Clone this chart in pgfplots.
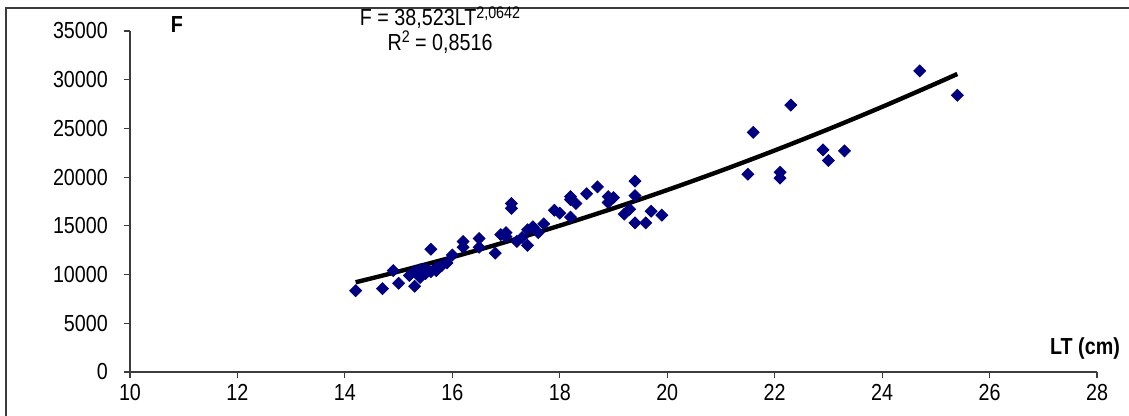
\documentclass[border=0pt]{standalone}
\usepackage{fontspec}
\setmainfont{Liberation Sans}[FakeStretch=0.85]
\usepackage{pgfplots}
\pgfplotsset{compat=1.18}
\definecolor{navy}{RGB}{0,0,128}
\definecolor{axgray}{RGB}{60,60,60}
\newcommand{\chartfont}{\fontsize{11.6}{13.9}\selectfont}
\newcommand{\sups}[1]{\raisebox{0.32em}{\fontsize{8.4}{9}\selectfont #1}}
\begin{document}
\chartfont
\begin{tikzpicture}[x=0.5pt,y=0.5pt]
\useasboundingbox (0,0) rectangle (1129,416);
\draw[axgray, line width=0.6pt] (6,0) -- (6,408) -- (1129,408);
\begin{axis}[
  at={(65pt,22pt)}, anchor=south west,
  scale only axis, width=483.5pt, height=170.5pt,
  xmin=10, xmax=28, ymin=0, ymax=35000,
  xtick={10,12,...,28}, ytick={0,5000,...,35000},
  axis x line*=bottom, axis y line*=left,
  axis line style={-, axgray, line width=0.6pt},
  tick style={axgray, line width=0.6pt},
  tick align=outside, major tick length=3pt,
  scaled y ticks=false,
  tick label style={font=\chartfont},
  /pgf/number format/assume math mode=true,
  /pgf/number format/1000 sep={},
  yticklabel style={xshift=-4pt},
  xticklabel style={yshift=1pt},
  clip=false,
]
\addplot[only marks, mark=square*, mark size=2.1pt, mark options={rotate=45, fill=navy, draw=navy}] coordinates {
(14.2,8350) (14.7,8550) (14.9,10400) (15.0,9100) (15.3,8800) (15.2,9900)
(15.3,10300) (15.4,9700) (15.4,10500) (15.5,10100) (15.5,10600) (15.6,12600)
(15.6,10300) (15.7,10700) (15.8,10900) (15.9,11200) (15.7,10400) (16.0,12000)
(16.2,13400) (16.2,12800) (16.5,13700) (16.5,12800) (16.8,12200) (16.9,14100)
(17.0,14300) (17.0,13900) (17.1,17300) (17.1,16800) (17.2,13400) (17.4,13000)
(17.4,14600) (17.5,14900) (17.6,14300) (17.3,13800) (17.7,15200) (17.9,16600)
(18.0,16300) (18.2,17700) (18.2,18000) (18.3,17300) (18.2,15900) (18.5,18300)
(18.7,19000) (18.9,18000) (19.0,17900) (18.9,17400) (19.2,16200) (19.3,16700)
(19.4,19600) (19.4,18100) (19.4,15300) (19.6,15300) (19.7,16500) (19.9,16100)
(21.5,20300) (21.6,24600) (22.1,20500) (22.1,19900) (22.3,27400) (22.9,22800)
(23.0,21700) (23.3,22700) (24.7,30900) (25.4,28400)
};
\addplot[black, line width=2.2pt, smooth, no marks] coordinates {
(14.2,9210) (15,10314) (16,11783) (17,13354) (18,15026) (19,16801) (20,18678)
(21,20657) (22,22739) (23,24923) (24,27212) (25,29604) (25.4,30590)
};
\end{axis}
\node[align=center, anchor=north, inner sep=0pt] at (440,410) {F = 38,523LT\sups{2,0642}\\[-1.6pt] R\sups{2} = 0,8516};
\node[font=\chartfont\bfseries] at (177,391) {F};
\node[font=\chartfont\bfseries, anchor=east] at (1128,67) {LT (cm)};
\end{tikzpicture}
\end{document}
